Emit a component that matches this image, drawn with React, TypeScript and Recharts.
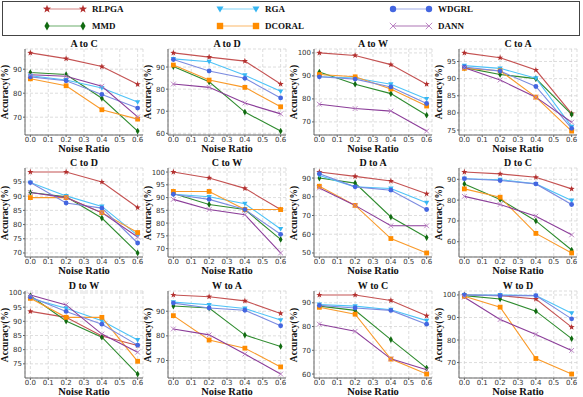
import React from 'react';
import { LineChart, Line, XAxis, YAxis, CartesianGrid } from 'recharts';

const noise = [0, 0.2, 0.4, 0.6];
const xTicks = [0, 0.1, 0.2, 0.3, 0.4, 0.5, 0.6];
const methods = ['RLPGA', 'MMD', 'RGA', 'DCORAL', 'WDGRL', 'DANN'];

// accuracy (%) at noise 0.0 / 0.2 / 0.4 / 0.6
const AtoC = {
  RLPGA: [96.8, 94.4, 91.1, 83.7], RGA: [87.3, 85.5, 82.2, 76.3], WDGRL: [86.8, 85.2, 79.5, 73.8],
  MMD: [88.6, 87.8, 77.9, 64.2], DCORAL: [86.0, 83.1, 73.1, 69.2], DANN: [87.7, 87.1, 82.9, 70.1],
};
const AtoD = {
  RLPGA: [96.4, 94.5, 92.7, 82.3], RGA: [93.7, 92.4, 86.3, 79.0], WDGRL: [93.4, 88.2, 84.9, 76.0],
  MMD: [90.2, 83.3, 69.6, 61.0], DCORAL: [90.9, 84.1, 80.8, 72.0], DANN: [82.3, 80.8, 73.7, 68.8],
};
const AtoW = {
  RLPGA: [100, 98.9, 94.9, 86.4], RGA: [89.6, 89.1, 86.4, 80.0], WDGRL: [89.6, 88.6, 85.2, 78.0],
  MMD: [91.7, 86.4, 82.3, 72.9], DCORAL: [90.6, 89.6, 84.3, 76.9], DANN: [77.7, 75.8, 74.7, 66.0],
};
const CtoA = {
  RLPGA: [97.5, 96.1, 92.5, 79.8], RGA: [93.8, 93.0, 90.1, 76.0], WDGRL: [93.4, 92.2, 87.7, 75.5],
  MMD: [93.2, 91.2, 90.0, 79.6], DCORAL: [93.0, 92.3, 84.6, 74.7], DANN: [93.2, 89.6, 84.6, 77.3],
};
const CtoD = {
  RLPGA: [98.5, 98.5, 95.0, 86.0], RGA: [94.8, 90.1, 86.4, 76.2], WDGRL: [94.8, 87.6, 85.8, 73.5],
  MMD: [91.3, 89.8, 82.3, 70.0], DCORAL: [89.5, 89.5, 84.2, 77.2], DANN: [91.3, 89.5, 84.2, 75.6],
};
const CtoW = {
  RLPGA: [100, 97.7, 93.6, 85.3], RGA: [91.3, 90.3, 87.6, 77.7], WDGRL: [91.3, 89.3, 85.3, 75.6],
  MMD: [91.6, 87.3, 85.3, 73.6], DCORAL: [92.4, 92.4, 85.3, 85.3], DANN: [89.3, 85.3, 83.3, 68.3],
};
const DtoA = {
  RLPGA: [93.2, 90.9, 88.4, 81.6], RGA: [91.4, 85.3, 84.4, 76.8], WDGRL: [92.3, 85.3, 83.5, 73.2],
  MMD: [90.0, 87.3, 69.2, 58.2], DCORAL: [85.6, 75.4, 57.7, 50.0], DANN: [84.7, 75.4, 64.5, 64.5],
};
const DtoC = {
  RLPGA: [93.5, 92.6, 91.0, 85.4], RGA: [90.3, 89.8, 87.8, 79.8], WDGRL: [90.3, 89.4, 87.8, 77.9],
  MMD: [87.8, 80.3, 70.0, 56.0], DCORAL: [85.4, 81.4, 64.0, 54.6], DANN: [81.8, 77.9, 72.3, 63.3],
};
const DtoW = {
  RLPGA: [93.5, 91.4, 84.8, 81.5], RGA: [98.1, 94.6, 90.2, 83.4], WDGRL: [98.6, 93.5, 89.0, 81.6],
  MMD: [99.0, 90.1, 84.4, 71.4], DCORAL: [98.1, 91.4, 91.4, 75.9], DANN: [99.3, 95.8, 85.5, 79.1],
};
const WtoA = {
  RLPGA: [96.6, 95.9, 94.2, 89.1], RGA: [93.7, 92.6, 91.1, 86.4], WDGRL: [93.3, 91.3, 90.4, 84.1],
  MMD: [92.1, 91.3, 80.3, 75.7], DCORAL: [88.2, 78.3, 75.0, 67.4], DANN: [82.8, 80.4, 72.6, 64.5],
};
const WtoC = {
  RLPGA: [93.3, 93.3, 91.0, 84.5], RGA: [89.3, 88.6, 87.1, 82.5], WDGRL: [88.9, 87.8, 86.8, 81.0],
  MMD: [88.6, 86.8, 74.5, 62.5], DCORAL: [88.1, 85.2, 66.3, 60.0], DANN: [81.0, 78.0, 66.4, 61.8],
};
const WtoD = {
  RLPGA: [100, 99.7, 98.2, 85.7], RGA: [100, 100, 99.7, 91.9], WDGRL: [100, 99.7, 99.7, 89.4],
  MMD: [99.7, 98.2, 92.8, 80.6], DCORAL: [99.4, 94.6, 71.8, 64.9], DANN: [99.0, 89.1, 82.5, 75.4],
};

const panels = [
  { title: 'A to C', data: AtoC, ticks: [70, 80, 90] },
  { title: 'A to D', data: AtoD, ticks: [60, 70, 80, 90] },
  { title: 'A to W', data: AtoW, ticks: [70, 80, 90, 100] },
  { title: 'C to A', data: CtoA, ticks: [75, 80, 85, 90, 95] },
  { title: 'C to D', data: CtoD, ticks: [70, 75, 80, 85, 90, 95] },
  { title: 'C to W', data: CtoW, ticks: [70, 75, 80, 85, 90, 95, 100] },
  { title: 'D to A', data: DtoA, ticks: [50, 60, 70, 80, 90] },
  { title: 'D to C', data: DtoC, ticks: [60, 70, 80, 90] },
  { title: 'D to W', data: DtoW, ticks: [75, 80, 85, 90, 95, 100] },
  { title: 'W to A', data: WtoA, ticks: [70, 80, 90] },
  { title: 'W to C', data: WtoC, ticks: [60, 70, 80, 90] },
  { title: 'W to D', data: WtoD, ticks: [70, 80, 90, 100] },
];

const styles = {
  RLPGA: { marker: '#b3302f', line: '#c45252', shape: 'star' },
  RGA: { marker: '#36b6f2', line: '#4fc3f7', shape: 'tri' },
  WDGRL: { marker: '#4466e0', line: '#7b8be0', shape: 'circle' },
  MMD: { marker: '#116b11', line: '#2e8b2e', shape: 'diamond' },
  DCORAL: { marker: '#ff8c00', line: '#f99a2a', shape: 'square' },
  DANN: { marker: '#b77bbf', line: '#8b3d99', shape: 'x' },
};

const serif = '"Liberation Serif", "Times New Roman", serif';
const sans = '"DejaVu Sans", sans-serif';

const PW = 118;
const colLeft = [25, 168, 314, 459];
const rowTop = [49, 168, 291];
const rowH = [86, 89, 87];
const YW = 26;
const XH = 12;

const Marker = ({ shape, cx, cy, color, r = 2.4 }: any) => {
  if (cx == null || cy == null) return null;
  switch (shape) {
    case 'star': {
      const pts: string[] = [];
      for (let i = 0; i < 10; i++) {
        const a = -Math.PI / 2 + (i * Math.PI) / 5;
        const rr = i % 2 === 0 ? r * 1.35 : r * 0.55;
        pts.push(`${cx + rr * Math.cos(a)},${cy + rr * Math.sin(a)}`);
      }
      return <polygon points={pts.join(' ')} fill={color} />;
    }
    case 'tri':
      return <polygon points={`${cx - r * 1.1},${cy - r * 0.8} ${cx + r * 1.1},${cy - r * 0.8} ${cx},${cy + r * 1.1}`} fill={color} />;
    case 'circle':
      return <circle cx={cx} cy={cy} r={r} fill={color} />;
    case 'diamond':
      return <polygon points={`${cx},${cy - r * 1.4} ${cx + r * 0.8},${cy} ${cx},${cy + r * 1.4} ${cx - r * 0.8},${cy}`} fill={color} />;
    case 'square':
      return <rect x={cx - r} y={cy - r} width={2 * r} height={2 * r} fill={color} />;
    default:
      return (
        <g stroke={color} strokeWidth={0.9}>
          <line x1={cx - r} y1={cy - r} x2={cx + r} y2={cy + r} />
          <line x1={cx - r} y1={cy + r} x2={cx + r} y2={cy - r} />
        </g>
      );
  }
};

const Label = ({ x, y, size, rotate, children }: any) => (
  <div
    style={{
      position: 'absolute', left: x, top: y,
      transform: `translate(-50%, -50%)${rotate ? ' rotate(-90deg)' : ''}`,
      fontFamily: serif, fontWeight: 'bold', fontSize: size, lineHeight: 1,
      whiteSpace: 'nowrap', color: '#111',
    }}
  >
    {children}
  </div>
);

const Panel = ({ p, idx }: any) => {
  const col = idx % 4;
  const row = Math.floor(idx / 4);
  const pl = colLeft[col];
  const pt = rowTop[row];
  const ph = rowH[row];
  const rows = noise.map((n, i) => {
    const o: any = { x: n };
    methods.forEach((m) => (o[m] = p.data[m][i]));
    return o;
  });
  const all = methods.flatMap((m) => p.data[m]);
  const lo = Math.min(...all);
  const hi = Math.max(...all);
  const pad = (hi - lo) * 0.05;
  const tickStyle = { fontFamily: sans, fontSize: 7, fill: '#333' };
  return (
    <>
      <div style={{ position: 'absolute', left: pl - YW, top: pt - 2 }}>
        <LineChart width={YW + PW + 2} height={ph + 2 + XH} data={rows} margin={{ top: 2, right: 2, left: 0, bottom: 0 }}>
          <CartesianGrid stroke="#cfcfcf" strokeDasharray="3 2" strokeWidth={0.7} />
          <XAxis
            dataKey="x" type="number" domain={[-0.03, 0.63]} ticks={xTicks} height={XH}
            tickFormatter={(v) => v.toFixed(1)} tick={tickStyle} tickSize={2} tickMargin={0}
            stroke="#666" interval={0}
          />
          <XAxis xAxisId="top" orientation="top" dataKey="x" type="number" domain={[-0.03, 0.63]} height={0} tick={false} tickLine={false} stroke="#666" />
          <YAxis
            type="number" domain={[lo - pad, hi + pad]} ticks={p.ticks} width={YW}
            tick={tickStyle} tickSize={2} tickMargin={1} stroke="#666" interval={0}
          />
          <YAxis yAxisId="right" orientation="right" type="number" domain={[lo - pad, hi + pad]} width={0} tick={false} tickLine={false} stroke="#666" />
          {methods.map((m) => {
            const s = (styles as any)[m];
            return (
              <Line
                key={m} dataKey={m} type="linear" stroke={s.line} strokeWidth={1.1}
                isAnimationActive={false}
                dot={(d: any) => <Marker key={`${m}-${d.index}`} shape={s.shape} cx={d.cx} cy={d.cy} color={s.marker} />}
                activeDot={false}
              />
            );
          })}
        </LineChart>
      </div>
      <Label x={pl + PW / 2} y={pt - 5} size={10}>{p.title}</Label>
      <Label x={pl + PW / 2} y={pt + ph + 14} size={10.5}>Noise Ratio</Label>
      <Label x={pl - 19} y={pt + ph / 2} size={9.5} rotate>Accuracy(%)</Label>
    </>
  );
};

const legendCols = [47, 220, 393];
const legendRows = [9, 26];
const legendOrder = [['RLPGA', 'MMD'], ['RGA', 'DCORAL'], ['WDGRL', 'DANN']];

const Legend = () => (
  <div style={{ position: 'absolute', left: 2, top: 1, width: 576, height: 33, border: '1px solid #444' }}>
    <svg width={576} height={33} style={{ position: 'absolute', left: 0, top: 0 }}>
      {legendOrder.map((pair, c) =>
        pair.map((m, r) => {
          const s = (styles as any)[m];
          const x0 = legendCols[c] - 3;
          const y = legendRows[r] - 2;
          return (
            <g key={m}>
              <line x1={x0} y1={y} x2={x0 + 36} y2={y} stroke={s.line} strokeWidth={1.2} strokeOpacity={0.7} />
              <Marker shape={s.shape} cx={x0} cy={y} color={s.marker} r={3.2} />
              <Marker shape={s.shape} cx={x0 + 36} cy={y} color={s.marker} r={3.2} />
            </g>
          );
        })
      )}
    </svg>
    {legendOrder.map((pair, c) =>
      pair.map((m, r) => (
        <div
          key={m}
          style={{
            position: 'absolute', left: legendCols[c] + 42, top: legendRows[r] - 2,
            transform: 'translateY(-50%)', fontFamily: serif, fontWeight: 'bold', fontSize: 9, lineHeight: 1, color: '#111',
          }}
        >
          {m}
        </div>
      ))
    )}
  </div>
);

export default function App() {
  return (
    <div style={{ position: 'absolute', left: 0, top: 0, width: 583, height: 397, background: '#fff', overflow: 'hidden' }}>
      <Legend />
      {panels.map((p, i) => (
        <Panel key={p.title} p={p} idx={i} />
      ))}
    </div>
  );
}
